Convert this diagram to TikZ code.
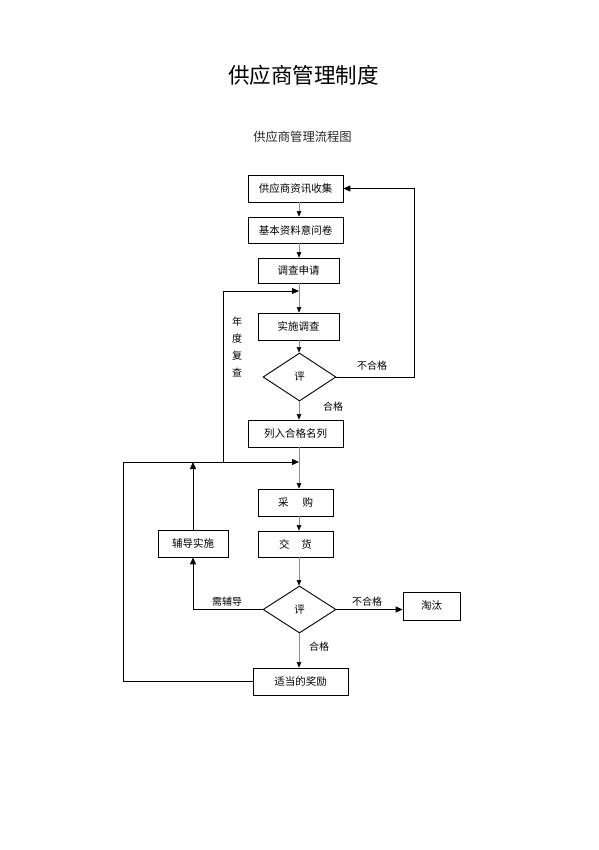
\documentclass[tikz,border=0pt]{standalone}
\usepackage{fontspec}
\newfontfamily\cjk{Noto Sans CJK SC}
\usetikzlibrary{shapes.geometric,arrows.meta}
\tikzset{
  box/.style={draw=black,line width=0.8pt,fill=white,inner sep=0pt,font=\cjk\fontsize{10.5}{12}\selectfont},
  dia/.style={diamond,draw=black,line width=0.9pt,fill=white,inner sep=0pt,minimum width=73pt,minimum height=48pt,font=\cjk\fontsize{10.5}{12}\selectfont},
  lbl/.style={inner sep=0pt,font=\cjk\fontsize{10}{12}\selectfont},
  flow/.style={draw=black!45,line width=0.5pt,-{Triangle[length=5.5pt,width=4.5pt,color=black]}},
  loopline/.style={draw=black,line width=1pt},
  looparrow/.style={draw=black,line width=1pt,-{Triangle[length=7pt,width=6pt]}},
}
\begin{document}
\begin{tikzpicture}[x=1pt,y=-1pt]
\useasboundingbox (0,0) rectangle (598,850);
% titles
\node[inner sep=0pt,font=\cjk\fontsize{21.5}{24}\selectfont] (title) at (303.5,75) {供应商管理制度};
\node[inner sep=0pt,font=\cjk\fontsize{12.3}{14}\selectfont,text=black!85] (sub) at (302.5,137) {供应商管理流程图};
% spine
\coordinate (sp) at (299,0);
% boxes
\node[box,minimum width=95pt,minimum height=27pt] (b1) at (295.5,188.5) {供应商资讯收集};
\node[box,minimum width=95pt,minimum height=26pt] (b2) at (295.5,230) {基本资料意问卷};
\node[box,minimum width=81pt,minimum height=25pt] (b3) at (298.5,270.5) {调查申请};
\node[box,minimum width=81pt,minimum height=27pt] (b4) at (298.5,326.5) {实施调查};
\node[dia] (d1) at (299.5,377) {评};
\node[box,minimum width=95pt,minimum height=27pt] (b5) at (295.5,433.5) {列入合格名列};
\node[box,minimum width=75pt,minimum height=27pt] (b6) at (295.5,502.5) {采\hspace{14pt}购};
\node[box,minimum width=75pt,minimum height=26pt] (b7) at (295.5,544) {交\hspace{12pt}货};
\node[dia,minimum height=47pt] (d2) at (299.5,609.5) {评};
\node[box,minimum width=57pt,minimum height=28pt] (b8) at (431.5,606) {淘汰};
\node[box,minimum width=70pt,minimum height=27pt] (b9) at (193,543.5) {辅导实施};
\node[box,minimum width=95pt,minimum height=27pt] (b10) at (300.5,681.5) {适当的奖励};
% helper coordinates
\coordinate (jA) at (299,291);
\coordinate (jB) at (223,291);
\coordinate (jC) at (223,462);
\coordinate (jM) at (299,462);
\coordinate (jL) at (123,462);
\coordinate (jR) at (414,377);
% main spine
\draw[flow] (b1.south -| sp) -- (b2.north -| sp);
\draw[flow] (b2.south -| sp) -- (b3.north -| sp);
\draw[flow] (b3.south -| sp) -- (b4.north -| sp);
\draw[flow] (b4.south -| sp) -- (d1.north -| sp);
\draw[flow] (d1.south -| sp) -- (b5.north -| sp);
\draw[flow] (b5.south -| sp) -- (b6.north -| sp);
\draw[flow] (b6.south -| sp) -- (b7.north -| sp);
\draw[flow] (b7.south -| sp) -- (d2.north -| sp);
\draw[flow] (d2.south -| sp) -- (b10.north -| sp);
% loops
\draw[looparrow] (d1.east) -- (jR) |- (b1.east);
\draw[looparrow] (jC) -- (jB) -- (jA);
\draw[looparrow] (b10.west) -| (jL) -- (jM);
\draw[looparrow] (d2.west) -| (b9.south);
\draw[looparrow] (b9.north) -- (b9.north |- jM);
\draw[looparrow] (d2.east) -- (d2.east -| b8.west);
% labels
\node[lbl] (l1) at (372,366) {不合格};
\node[lbl] (l2) at (333,407) {合格};
\node[lbl,align=center,font=\cjk\fontsize{10}{16.7}\selectfont] (l3) at (237,347) {年\\度\\复\\查};
\node[lbl] (l4) at (227,602) {需辅导};
\node[lbl] (l5) at (367,602) {不合格};
\node[lbl] (l6) at (319,647) {合格};
\end{tikzpicture}
\end{document}
